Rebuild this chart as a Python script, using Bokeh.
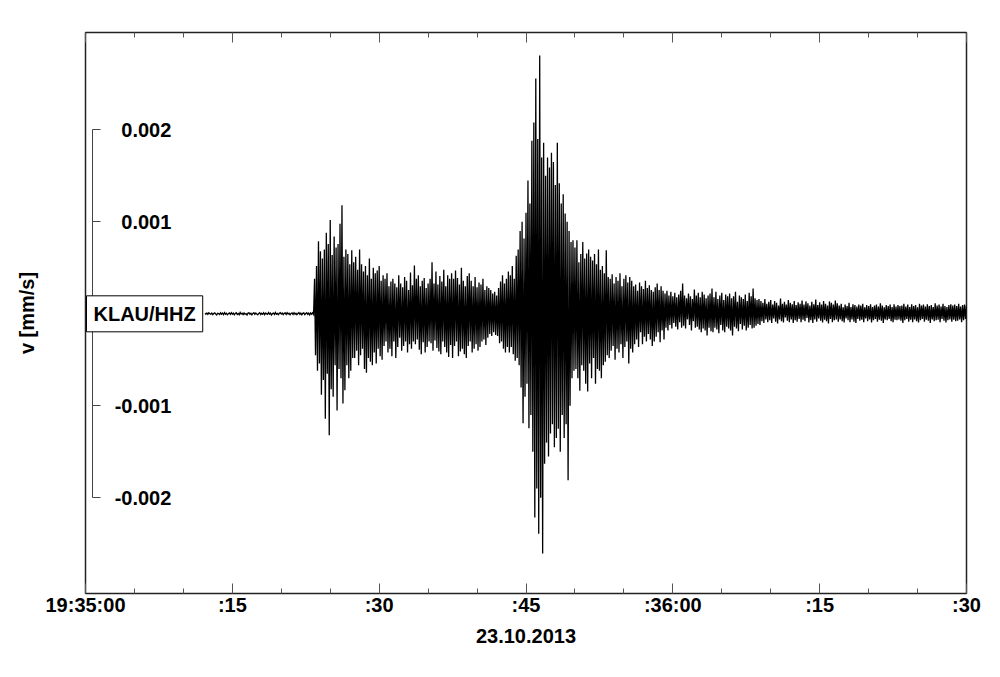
import numpy as np
from bokeh.plotting import figure
from bokeh.models import (LinearAxis, FixedTicker, Range1d, Label,
                          PrintfTickFormatter)
from bokeh.embed import file_html
from bokeh.resources import INLINE

# ---- data: KLAU/HHZ vertical velocity in nm/s, one sample every dt seconds from t0
# ---- (t measured in seconds after 19:35:00 on 23.10.2013)
t0 = 12.2
dt = 0.1

quiet = [5, -3, 8, -6, 12, 2, -4, 9, -8, 4,
         10, -2, -12, 6, 3, -7, 11, -5, 7, -9,
         14, -4, 6, -10, 2, 9, -6, 13, -3, 8,
         -11, 5, 12, -7, 4, -9, 15, -2, 6, -8,
         10, -5, 3, -12, 8, 11, -4, 7, -10, 5,
         13, -6, 9, -3, -11, 4, 12, -8, 6, -5,
         11, -9, 7, 2, -6, 14, -4, 8, -12, 3,
         9, -7, 15, -5, 4, -10, 6, 12, -3, 8,
         -9, 5, 11, -6, 13, -2, 7, -11, 4, 10,
         -7, 12, -4, 6, -9, 3, 14, -6, 8, -10,
         5, 11, -8, 4, 13, -5, 7, -12, 9, -3,
         12, -6]

p_onset = [380, -450, 520, -620, 790, -540, 680, -880, 600, -720,
           700, -1140, 880, -650, 760, -1320, 1020, -820, 640, -900,
           840, -560, 720, -1050, 760, -600, 980, -700, 1180, -975,
           620, -830, 700, -560, 650, -700, 540, -620, 690, -480]

p_coda = [560, -480, 620, -400, 480, -560, 700, -450, 540, -380,
          460, -600, 520, -640, 420, -480, 600, -520, 380, -560,
          500, -420, 440, -540, 470, -380, 520, -460, 360, -500,
          420, -350, 380, -300, 440, -420, 300, -380, 350, -460,
          380, -300, 330, -480, 290, -360, 420, -260, 330, -400,
          290, -350, 400, -300, 360, -420, 260, -330, 450, -380,
          310, -300, 525, -330, 380, -280, 420, -390, 300, -440,
          360, -310, 390, -420, 280, -360, 330, -300, 380, -320,
          560, -400, 330, -290, 460, -370, 320, -410, 410, -440,
          350, -300, 480, -360, 300, -420, 420, -470, 380, -340,
          440, -480, 380, -350, 470, -300, 390, -460, 320, -410,
          500, -380, 360, -440, 300, -480, 410, -350, 440, -300,
          360, -420, 300, -380, 400, -330, 290, -400, 340, -360,
          320, -300, 380, -280, 260, -340, 300, -260, 280, -220,
          260, -240, 220, -200, 240, -230, 200, -240]

s_pre = [280, -320, 350, -300, 420, -380, 330, -420, 380, -360,
         460, -420, 420, -360, 520, -440, 380, -510, 630, -480]

s_wave = [700, -560, 900, -800, 1000, -1190, 820, -900, 1100, -760,
          1450, -1245, 1200, -1100, 1880, -1500, 2080, -2215, 2558, -1900,
          1900, -2390, 2808, -2000, 1700, -2605, 1860, -1630, 1500, -1400,
          1700, -1550, 1590, -1300, 1750, -1200, 1650, -1450, 1400, -1350,
          1860, -1250, 1420, -1500, 1200, -1100, 1300, -1350, 1090, -1200,
          1000, -1810, 900, -1000, 780, -700, 800, -620]

s_coda = [720, -600, 800, -700, 560, -835, 650, -560, 780, -620,
          600, -760, 655, -845, 700, -540, 620, -700, 580, -480,
          650, -760, 540, -600, 700, -620, 480, -700, 520, -560,
          440, -520, 690, -450, 400, -480, 380, -400, 430, -350,
          330, -500, 400, -380, 360, -420, 440, -330, 300, -480,
          380, -360, 420, -300, 340, -540, 400, -380, 360, -420,
          300, -330]

late_coda = [320, -280, 250, -360, 340, -200, 300, -330, 270, -250,
             360, -300, 280, -220, 310, -280, 260, -350, 240, -300,
             290, -250, 330, -200, 260, -310, 300, -180, 250, -280,
             220, -150, 250, -180, 200, -120, 240, -160, 190, -100,
             230, -140, 180, -170, 210, -90, 250, -150, 330, -130,
             200, -160, 170, -60, 220, -120, 190, -180, 160, -80,
             265, -150, 200, -140, 230, -170, 180, -200, 240, -160,
             210, -180, 170, -235, 200, -150, 220, -190, 275, -200,
             180, -150, 240, -170, 160, -210, 200, -120, 230, -180,
             150, -200, 210, -140, 190, -160, 220, -180, 170, -235,
             190, -140, 240, -160, 130, -190, 200, -110, 180, -170,
             160, -130, 210, -180, 140, -150, 230, -120, 190, -160,
             275, -150, 170, -130, 150, -110, 160, -120]

tail = [140, -80, 120, -100, 160, -60, 110, -90, 130, -70,
        150, -100, 100, -50, 140, -85, 120, -105, 90, -60,
        165, -80, 110, -95, 130, -40, 100, -75, 150, -90,
        120, -60, 105, -100, 140, -70, 95, -85, 125, -55,
        110, -90, 145, -65, 100, -80, 135, -45, 115, -95,
        90, -70, 130, -100, 105, -60, 155, -85, 95, -50,
        125, -75, 100, -95, 140, -65, 110, -80, 90, -105,
        135, -55, 120, -90, 100, -70, 145, -60, 115, -85,
        90, -60, 110, -80, 70, -95, 100, -50, 85, -70,
        120, -90, 75, -60, 105, -85, 95, -100, 80, -55,
        100, -75, 90, -65, 110, -90, 70, -50, 95, -80,
        85, -60, 105, -95, 75, -70, 90, -55, 100, -85,
        80, -65, 115, -75, 90, -100, 70, -60, 95, -70,
        85, -55, 100, -80, 75, -90, 105, -65, 80, -70,
        95, -60, 85, -75, 90, -100, 110, -70, 80, -55,
        100, -85, 75, -65, 105, -90, 85, -60, 95, -80,
        70, -95, 110, -70, 90, -55, 100, -85, 80, -65,
        105, -75, 85, -100, 95, -60, 75, -80, 115, -70,
        90, -65, 100, -90, 80, -55, 110, -75, 85, -95,
        75, -70, 95, -60, 105, -85, 90, -65, 100, -80,
        85, -75, 110, -60, 80, -90, 95, -70, 100, -55,
        90]

major_ticks = [0, 15, 30, 45, 60, 75, 90]
major_labels = ["19:35:00", ":15", ":30", ":45", ":36:00", ":15", ":30"]
minor_ticks = [5, 10, 20, 25, 35, 40, 50, 55, 65, 70, 80, 85]
y_ticks = [-0.002, -0.001, 0.001, 0.002]

station = "KLAU/HHZ"
date_label = "23.10.2013"
y_label = "v [mm/s]"

# ---- build
v_nm = np.array(quiet + p_onset + p_coda + s_pre + s_wave + s_coda + late_coda + tail, dtype=float)
v = v_nm * 1e-6  # nm/s -> mm/s
t = t0 + dt * np.arange(len(v))

FONT = "Liberation Sans"

p = figure(frame_width=881, frame_height=561,
           min_border_left=85, min_border_right=26, min_border_top=32, min_border_bottom=75,
           x_range=Range1d(0, 90), y_range=Range1d(-0.003040, 0.003058),
           output_backend="svg", toolbar_location=None,
           y_axis_location=None, x_axis_location="below")
p.xgrid.visible = False
p.ygrid.visible = False
p.outline_line_color = "#222222"
p.outline_line_width = 1.5
p.background_fill_color = "white"
p.border_fill_color = "white"

xa = p.xaxis[0]
xa.ticker = FixedTicker(ticks=major_ticks, minor_ticks=minor_ticks)
xa.major_label_overrides = dict(zip(major_ticks, major_labels))
xa.major_tick_in = 10
xa.major_tick_out = 0
xa.minor_tick_in = 5
xa.minor_tick_out = 0
xa.major_tick_line_color = "#555555"
xa.minor_tick_line_color = "#555555"
xa.axis_line_color = None
xa.major_label_text_font = FONT
xa.major_label_text_font_style = "bold"
xa.major_label_text_font_size = "20px"
xa.major_label_text_color = "black"
xa.major_label_standoff = 0
xa.axis_label = date_label
xa.axis_label_text_font = FONT
xa.axis_label_text_font_style = "bold"
xa.axis_label_text_font_size = "20px"
xa.axis_label_text_color = "black"
xa.axis_label_standoff = 10

# tick marks along the top edge of the frame (no labels)
top = LinearAxis(ticker=FixedTicker(ticks=major_ticks, minor_ticks=minor_ticks))
top.major_tick_in = 10
top.major_tick_out = 0
top.minor_tick_in = 5
top.minor_tick_out = 0
top.major_tick_line_color = "#555555"
top.minor_tick_line_color = "#555555"
top.axis_line_color = None
top.major_label_text_color = None
p.add_layout(top, "above")

# axis title on the left
ylab = LinearAxis(ticker=FixedTicker(ticks=[]), axis_label=y_label)
ylab.axis_line_color = None
ylab.major_tick_line_color = None
ylab.minor_tick_line_color = None
ylab.axis_label_text_font = FONT
ylab.axis_label_text_font_style = "bold"
ylab.axis_label_text_font_size = "20px"
ylab.axis_label_text_color = "black"
ylab.axis_label_standoff = 48
p.add_layout(ylab, "left")

# inner amplitude scale
ya = LinearAxis(ticker=FixedTicker(ticks=y_ticks, minor_ticks=[]),
                formatter=PrintfTickFormatter(format="%.3f"),
                fixed_location=0.7, bounds=(-0.002, 0.002))
ya.axis_line_color = "#444444"
ya.major_tick_line_color = "#444444"
ya.major_tick_in = 8
ya.major_tick_out = 0
ya.minor_tick_line_color = None
ya.major_label_standoff = -79
ya.major_label_text_font = FONT
ya.major_label_text_font_style = "bold"
ya.major_label_text_font_size = "20px"
ya.major_label_text_color = "black"
p.add_layout(ya, "left")

p.line(t, v, line_color="black", line_width=1.3, line_join="miter")

lab = Label(x=0, y=0, text=station, text_align="left", text_baseline="middle",
            text_font=FONT, text_font_style="bold", text_font_size="20px",
            text_color="black", background_fill_color="white",
            border_line_color="black", border_line_width=1, padding=7, x_offset=1)
p.add_layout(lab)

open("out.html", "w").write(file_html(p, INLINE))
print(len(v))
